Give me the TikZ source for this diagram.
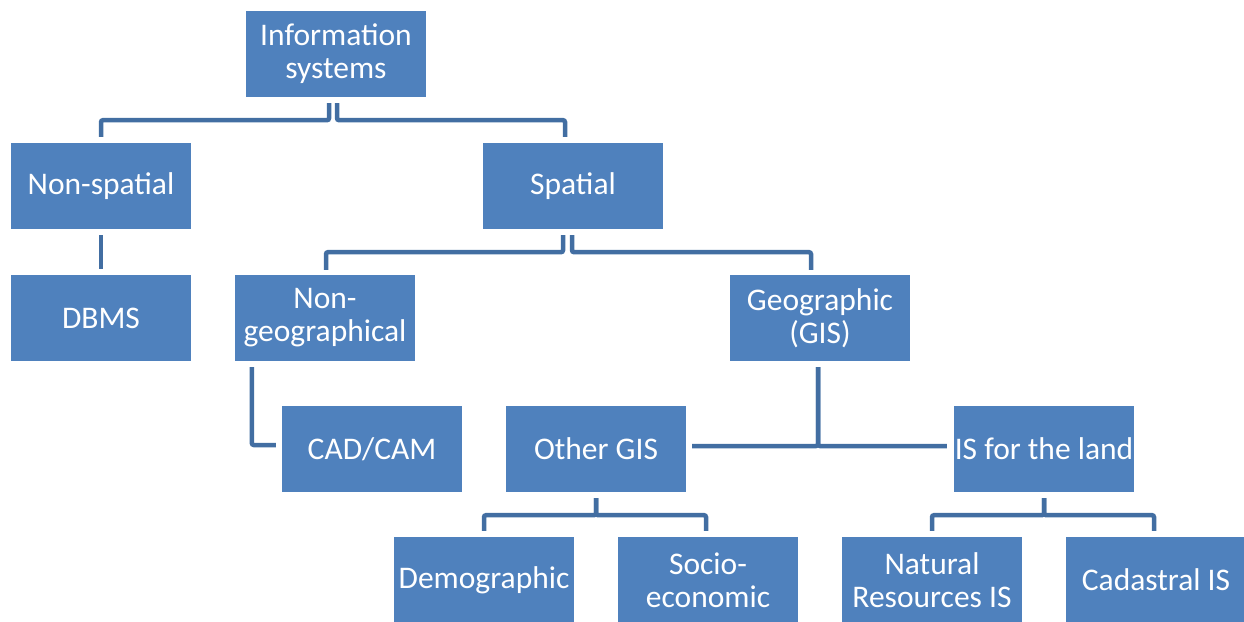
\documentclass[tikz,border=0pt]{standalone}
\usepackage{fontspec}
\setmainfont{Carlito}
\definecolor{boxblue}{RGB}{79,129,189}
\definecolor{lineblue}{RGB}{66,110,162}
\tikzset{
  box/.style={fill=boxblue,text=white,minimum width=180pt,minimum height=86pt,
    inner sep=0pt,align=center,font=\fontsize{31.5}{33}\selectfont},
  conn/.style={draw=lineblue,line width=4.5pt,rounded corners=2pt}
}
\begin{document}
\begin{tikzpicture}[x=1pt,y=-1pt]
    \useasboundingbox (0,0) rectangle (1244,621);
    \begin{scope}
      \tikzstyle{every node}=[box]
      \node (info)      at (336 ,54)  {Information\\systems};
      \node (nonspatial) at (101 ,186) {Non-spatial};
      \node (spatial)   at (573 ,186) {Spatial};
      \node (dbms)      at (101 ,318) {DBMS};
      \node (nongeo)    at (325 ,318) {Non-\\geographical};
      \node (geo)       at (820 ,318) {Geographic\\(GIS)};
      \node (cad)       at (372 ,449) {CAD/CAM};
      \node (other)     at (596 ,449) {Other GIS};
      \node (island)    at (1044,449) {IS for the land};
      \node (demo)      at (484 ,580) {Demographic};
      \node (socio)     at (708 ,580) {Socio-\\economic};
      \node (natural)   at (932 ,580) {Natural\\Resources IS};
      \node (cadastral) at (1156,580) {Cadastral IS};
    \end{scope}

    \draw[conn] ([xshift=-7pt,yshift=-6pt]info.south) -- ++(0,17) -| ([yshift=6pt]nonspatial.north);
    \draw[conn] ([xshift=1pt,yshift=-6pt]info.south)  -- ++(0,17) -| ([xshift=-8pt,yshift=6pt]spatial.north);

    \draw[conn] ([xshift=-10pt,yshift=-6pt]spatial.south) -- ++(0,17) -| ([xshift=1pt,yshift=5pt]nongeo.north);
    \draw[conn] ([xshift=-1pt,yshift=-6pt]spatial.south)  -- ++(0,17) -| ([xshift=-9pt,yshift=5pt]geo.north);

    \draw[conn] ([yshift=-6pt]nonspatial.south) -- ([yshift=6pt]dbms.north);
    \draw[conn] ([xshift=17pt,yshift=-6pt]nongeo.south west) |- ([xshift=-6pt,yshift=4pt]cad.west);

    \draw[conn] ([xshift=-2pt,yshift=-6pt]geo.south) |- ([xshift=6pt,yshift=3pt]other.east);
    \draw[conn] ([xshift=-2pt,yshift=-6pt]geo.south) |- ([xshift=-7pt,yshift=3pt]island.west);

    \draw[conn] ([yshift=-6pt]other.south)  -- ++(0,17) -| ([yshift=6pt]demo.north);
    \draw[conn] ([yshift=-6pt]other.south)  -- ++(0,17) -| ([xshift=-2pt,yshift=6pt]socio.north);
    \draw[conn] ([yshift=-6pt]island.south) -- ++(0,17) -| ([yshift=6pt]natural.north);
    \draw[conn] ([yshift=-6pt]island.south) -- ++(0,17) -| ([xshift=-2pt,yshift=6pt]cadastral.north);
  \end{tikzpicture}
\end{document}
